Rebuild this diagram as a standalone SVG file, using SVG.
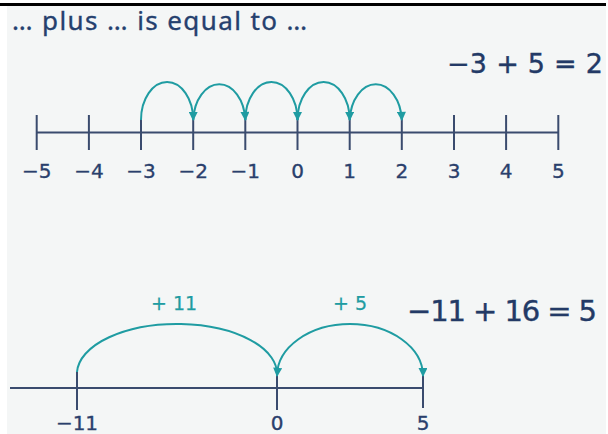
<svg xmlns="http://www.w3.org/2000/svg" width="608" height="434" viewBox="0 0 608 434">
  <style>
    .axis { stroke: #3a4b6e; stroke-width: 2; fill: none; }
    .tick { stroke: #3a4b6e; stroke-width: 2; }
    .jump { stroke: #1f9ca2; stroke-width: 2; fill: none; marker-end: url(#arrow); }
    .num { font-family: "DejaVu Sans", "Liberation Sans", sans-serif; font-size: 20px; fill: #2a3f6c; stroke: #2a3f6c; stroke-width: 0.35; text-anchor: middle; }
    .eq { font-family: "DejaVu Sans", "Liberation Sans", sans-serif; fill: #233a66; stroke: #233a66; stroke-width: 0.4; text-anchor: end; }
    .step { font-family: "DejaVu Sans", "Liberation Sans", sans-serif; font-size: 19px; fill: #1f9ca2; stroke: #1f9ca2; stroke-width: 0.25; text-anchor: middle; }
    .title { font-family: "Noto Sans", "Liberation Sans", sans-serif; font-size: 26px; fill: #25406e; stroke: #25406e; stroke-width: 0.35; }
  </style>
  <defs>
    <marker id="arrow" viewBox="0 0 10 10" refX="9" refY="5" markerWidth="10" markerHeight="9" markerUnits="userSpaceOnUse" orient="auto">
      <path d="M0,0 L10,5 L0,10 z" fill="#1f9ca2"/>
    </marker>
  </defs>
  <rect x="0" y="0" width="608" height="434" fill="#ffffff"/>
  <rect x="7" y="5" width="599" height="429" fill="#f4f6f6"/>
  <line x1="0" y1="4.5" x2="606" y2="4.5" stroke="#000" stroke-width="3"/>

  <g id="title">
    <text class="title" x="12" y="30" textLength="295" lengthAdjust="spacing">… plus … is equal to …</text>
  </g>

  <g id="equation-top">
    <text class="eq" x="603" y="73" font-size="27" textLength="156" lengthAdjust="spacing">−3 + 5 = 2</text>
  </g>

  <g id="numberline-top">
    <line class="axis" x1="36.7" y1="132.5" x2="558.3" y2="132.5"/>
    <line class="tick" x1="36.7" y1="115" x2="36.7" y2="150"/>
    <line class="tick" x1="88.9" y1="115" x2="88.9" y2="150"/>
    <line class="tick" x1="141" y1="120" x2="141" y2="150"/>
    <line class="tick" x1="193.2" y1="118" x2="193.2" y2="150"/>
    <line class="tick" x1="245.3" y1="118" x2="245.3" y2="150"/>
    <line class="tick" x1="297.5" y1="118" x2="297.5" y2="150"/>
    <line class="tick" x1="349.7" y1="118" x2="349.7" y2="150"/>
    <line class="tick" x1="401.8" y1="118" x2="401.8" y2="150"/>
    <line class="tick" x1="454" y1="115" x2="454" y2="150"/>
    <line class="tick" x1="506.1" y1="115" x2="506.1" y2="150"/>
    <line class="tick" x1="558.3" y1="115" x2="558.3" y2="150"/>
    <text class="num" x="36.7" y="178">−5</text>
    <text class="num" x="88.9" y="178">−4</text>
    <text class="num" x="141" y="178">−3</text>
    <text class="num" x="193.2" y="178">−2</text>
    <text class="num" x="245.3" y="178">−1</text>
    <text class="num" x="297.5" y="178">0</text>
    <text class="num" x="349.7" y="178">1</text>
    <text class="num" x="401.8" y="178">2</text>
    <text class="num" x="454" y="178">3</text>
    <text class="num" x="506.1" y="178">4</text>
    <text class="num" x="558.3" y="178">5</text>
  </g>

  <g id="equation-bottom">
    <text class="eq" x="597" y="321" font-size="29" textLength="190" lengthAdjust="spacing">−11 + 16 = 5</text>
  </g>

  <g id="numberline-bottom">
    <line class="axis" x1="10" y1="388" x2="423" y2="388"/>
    <line class="tick" x1="77" y1="372" x2="77" y2="410"/>
    <line class="tick" x1="277" y1="374" x2="277" y2="410"/>
    <line class="tick" x1="423" y1="374" x2="423" y2="408"/>
    <text class="num" x="77" y="430">−11</text>
    <text class="num" x="277" y="430">0</text>
    <text class="num" x="423" y="430">5</text>
    <text class="step" x="174" y="310">+ 11</text>
    <text class="step" x="350" y="310">+ 5</text>
  </g>

  <g id="connectors">
    <path class="jump" d="M141,120 A26.1,38 0 0 1 193.2,120"/>
    <path class="jump" d="M193.2,120 A26.1,38 0 0 1 245.3,120"/>
    <path class="jump" d="M245.3,120 A26.1,38 0 0 1 297.5,120"/>
    <path class="jump" d="M297.5,120 A26.1,38 0 0 1 349.7,120"/>
    <path class="jump" d="M349.7,120 A26.1,38 0 0 1 401.8,120"/>
    <path class="jump" d="M77,372 A100,50 0 0 1 277,376"/>
    <path class="jump" d="M277,376 A73,52 0 0 1 423,376"/>
  </g>
</svg>
